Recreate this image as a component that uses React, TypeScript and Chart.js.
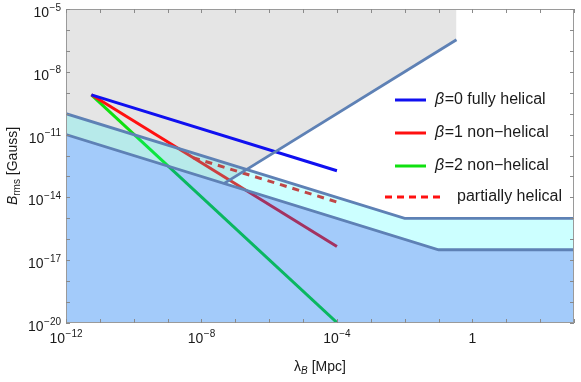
import React, { useEffect, useRef } from "react";
import { Chart, registerables } from "chart.js";

Chart.register(...registerables);

const W = 581;
const H = 382;
const FONT = "'Liberation Sans', Arial, Helvetica, sans-serif";

// ---- data (λ_B in Mpc, B_rms in Gauss) ----
const BETA_LAMBDA = [5.62e-12, 1e-4];
const BETA0_B = [7.94e-10, 1.88e-13];
const BETA1_B = [7.94e-10, 4.47e-17];
const BETA2_B = [7.94e-10, 1.05e-20];
const PARTIAL_LAMBDA = [5.62e-9, 1e-4];
const PARTIAL_B = [7.94e-13, 6.03e-15];

const UPPER_LAMBDA = [1e-12, 1e-2, 1e3];
const UPPER_B = [1e-10, 1e-15, 1e-15];
const LOWER_LAMBDA = [1e-12, 1e-1, 1e3];
const LOWER_B = [1e-11, 3.16e-17, 3.16e-17];
const RISING_LAMBDA = [4.68e-8, 0.339];
const RISING_B = [4.68e-14, 3.39e-7];
const EXCLUDED_LAMBDA = [1e-12, 4.68e-8, 0.339];
const EXCLUDED_B = [1e-11, 4.68e-14, 3.39e-7];

// ---- axes ----
const X_MIN = 1e-12;
const X_MAX = 1e3;
const Y_MIN = 1e-20;
const Y_MAX = 1e-5;
const X_TICKS = [1e-12, 1e-11, 1e-10, 1e-9, 1e-8, 1e-7, 1e-6, 1e-5, 1e-4, 1e-3, 1e-2, 1e-1, 1, 1e1, 1e2, 1e3];
const Y_TICKS = [1e-20, 1e-19, 1e-18, 1e-17, 1e-16, 1e-15, 1e-14, 1e-13, 1e-12, 1e-11, 1e-10, 1e-9, 1e-8, 1e-7, 1e-6, 1e-5];
const X_LABEL_VALUES = [1e-12, 1e-8, 1e-4, 1];
const X_LABEL_BASES = ["10", "10", "10", "1"];
const X_LABEL_EXPS = ["\u221212", "\u22128", "\u22124", ""];
const Y_LABEL_VALUES = [1e-5, 1e-8, 1e-11, 1e-14, 1e-17, 1e-20];
const Y_LABEL_EXPS = ["\u22125", "\u22128", "\u221211", "\u221214", "\u221217", "\u221220"];

const LEGEND_LABELS = ["=0 fully helical", "=1 non\u2212helical", "=2 non\u2212helical", "partially helical"];
const LEGEND_BETA = [true, true, true, false];
const LEGEND_COLORS = ["#1010f0", "#ff1010", "#10e010", "#ff1010"];

const pts = (xs: number[], ys: number[]) => xs.map((x, i) => ({ x, y: ys[i] }));

const EDGE = "#5e81b5";
const NONE = "rgba(0,0,0,0)";

function drawPow(ctx: CanvasRenderingContext2D, base: string, exp: string, anchorX: number, baseline: number, align: "center" | "right") {
  ctx.font = `14px ${FONT}`;
  const wb = ctx.measureText(base).width;
  ctx.font = `10px ${FONT}`;
  const we = exp ? ctx.measureText(exp).width + 0.5 : 0;
  const total = wb + we;
  const x0 = align === "center" ? anchorX - total / 2 : anchorX - total;
  ctx.textAlign = "left";
  ctx.textBaseline = "alphabetic";
  ctx.font = `14px ${FONT}`;
  ctx.fillText(base, x0, baseline);
  if (exp) {
    ctx.font = `10px ${FONT}`;
    ctx.fillText(exp, x0 + wb + 0.5, baseline - 6.5);
  }
}

const overlay = {
  id: "overlay",
  afterDraw(chart: any) {
    const { ctx, chartArea: a, scales } = chart;
    const xs = scales.x;
    const ys = scales.y;
    ctx.save();
    // frame
    ctx.strokeStyle = "#9a9a9a";
    ctx.lineWidth = 1;
    ctx.strokeRect(a.left + 0.5, a.top + 0.5, a.right - a.left - 1, a.bottom - a.top - 1);
    // ticks
    ctx.strokeStyle = "#8a8a8a";
    ctx.beginPath();
    X_TICKS.forEach((v) => {
      const px = Math.round(xs.getPixelForValue(v)) + 0.5;
      ctx.moveTo(px, a.bottom);
      ctx.lineTo(px, a.bottom - 4);
      ctx.moveTo(px, a.top);
      ctx.lineTo(px, a.top + 4);
    });
    Y_TICKS.forEach((v) => {
      const py = Math.round(ys.getPixelForValue(v)) + 0.5;
      ctx.moveTo(a.left, py);
      ctx.lineTo(a.left + 4, py);
      ctx.moveTo(a.right, py);
      ctx.lineTo(a.right - 4, py);
    });
    ctx.stroke();

    // tick labels
    ctx.fillStyle = "#1a1a1a";
    X_LABEL_VALUES.forEach((v, i) => {
      drawPow(ctx, X_LABEL_BASES[i], X_LABEL_EXPS[i], xs.getPixelForValue(v), 343, "center");
    });
    Y_LABEL_VALUES.forEach((v, i) => {
      drawPow(ctx, "10", Y_LABEL_EXPS[i], 61, ys.getPixelForValue(v) + 8, "right");
    });

    // x title
    {
      ctx.textBaseline = "alphabetic";
      ctx.textAlign = "left";
      const f1 = `14px ${FONT}`;
      const f2 = `italic 10px ${FONT}`;
      ctx.font = f1;
      const w1 = ctx.measureText("\u03bb").width;
      const w3 = ctx.measureText(" [Mpc]").width;
      ctx.font = f2;
      const w2 = ctx.measureText("B").width;
      const total = w1 + w2 + w3;
      let x0 = (a.left + a.right) / 2 - total / 2;
      const bl = 371;
      ctx.font = f1;
      ctx.fillText("\u03bb", x0, bl);
      x0 += w1;
      ctx.font = f2;
      ctx.fillText("B", x0, bl + 3);
      x0 += w2;
      ctx.font = f1;
      ctx.fillText(" [Mpc]", x0, bl);
    }
    // y title
    {
      ctx.save();
      ctx.translate(17, (a.top + a.bottom) / 2);
      ctx.rotate(-Math.PI / 2);
      ctx.textBaseline = "alphabetic";
      ctx.textAlign = "left";
      const f1 = `italic 14px ${FONT}`;
      const f2 = `10px ${FONT}`;
      const f3 = `14px ${FONT}`;
      ctx.font = f1;
      const w1 = ctx.measureText("B").width;
      ctx.font = f2;
      const w2 = ctx.measureText("rms").width;
      ctx.font = f3;
      const w3 = ctx.measureText(" [Gauss]").width;
      let x0 = -(w1 + w2 + w3) / 2;
      ctx.font = f1;
      ctx.fillText("B", x0, 0);
      x0 += w1;
      ctx.font = f2;
      ctx.fillText("rms", x0, 3);
      x0 += w2;
      ctx.font = f3;
      ctx.fillText(" [Gauss]", x0, 0);
      ctx.restore();
    }

    // legend
    const rows = [100, 133, 166, 197];
    const swX0 = [395, 395, 395, 385];
    const swX1 = [426, 426, 426, 442];
    const txtX = [435, 435, 435, 457];
    rows.forEach((ry, i) => {
      ctx.strokeStyle = LEGEND_COLORS[i];
      ctx.lineWidth = 3;
      ctx.setLineDash(i === 3 ? [7, 5] : []);
      ctx.beginPath();
      ctx.moveTo(swX0[i], ry);
      ctx.lineTo(swX1[i], ry);
      ctx.stroke();
      ctx.setLineDash([]);
      ctx.fillStyle = "#1a1a1a";
      ctx.textBaseline = "middle";
      ctx.textAlign = "left";
      let tx = txtX[i];
      if (LEGEND_BETA[i]) {
        ctx.font = `italic 16px ${FONT}`;
        ctx.fillText("\u03b2", tx, ry);
        tx += ctx.measureText("\u03b2").width + 0.5;
      }
      ctx.font = `16px ${FONT}`;
      ctx.fillText(LEGEND_LABELS[i], tx, ry);
    });
    ctx.restore();
  },
};

export default function App() {
  const ref = useRef<HTMLCanvasElement>(null);
  useEffect(() => {
    const canvas = ref.current;
    if (!canvas) return;
    const line = (xs: number[], ys: number[], color: string, order: number, extra: any = {}) => ({
      data: pts(xs, ys),
      borderColor: color,
      borderWidth: 3,
      pointRadius: 0,
      fill: false,
      order,
      ...extra,
    });
    const chart = new Chart(canvas, {
      type: "line",
      data: {
        datasets: [
          // 0: excluded (grey) region
          { data: pts(EXCLUDED_LAMBDA, EXCLUDED_B), borderColor: NONE, borderWidth: 0, pointRadius: 0, fill: "end", backgroundColor: "#e5e5e5", order: 10 },
          // 1-4 spectra
          line(BETA_LAMBDA, BETA0_B, "#1010f0", 5),
          line(BETA_LAMBDA, BETA1_B, "#ff1010", 5),
          line(BETA_LAMBDA, BETA2_B, "#10e010", 5),
          line(PARTIAL_LAMBDA, PARTIAL_B, "#f01818", 5, { borderDash: [7, 6] }),
          // 5: cyan band between upper and lower
          { data: pts(UPPER_LAMBDA, UPPER_B), borderColor: NONE, borderWidth: 0, pointRadius: 0, fill: 6, backgroundColor: "rgba(0,255,255,0.2)", order: 3 },
          // 6: blue region below lower
          { data: pts(LOWER_LAMBDA, LOWER_B), borderColor: NONE, borderWidth: 0, pointRadius: 0, fill: "start", backgroundColor: "rgba(0,110,241,0.36)", order: 3 },
          // 7-9 edges
          line(UPPER_LAMBDA, UPPER_B, EDGE, 1, { borderWidth: 2.8 }),
          line(LOWER_LAMBDA, LOWER_B, EDGE, 1, { borderWidth: 2.8 }),
          line(RISING_LAMBDA, RISING_B, EDGE, 1, { borderWidth: 2.8 }),
        ],
      },
      options: {
        animation: false,
        responsive: false,
        devicePixelRatio: 1,
        events: [],
        layout: { padding: { left: 66, right: 7, top: 9, bottom: 59 } },
        elements: { line: { tension: 0, borderCapStyle: "butt" } },
        plugins: { legend: { display: false }, tooltip: { enabled: false } },
        scales: {
          x: { type: "logarithmic", min: X_MIN, max: X_MAX, display: false },
          y: { type: "logarithmic", min: Y_MIN, max: Y_MAX, display: false },
        },
      },
      plugins: [overlay],
    } as any);
    return () => chart.destroy();
  }, []);
  return (
    <div style={{ position: "fixed", left: 0, top: 0, width: W, height: H, background: "#fff" }}>
      <canvas ref={ref} width={W} height={H} style={{ width: W, height: H, display: "block" }} />
    </div>
  );
}
